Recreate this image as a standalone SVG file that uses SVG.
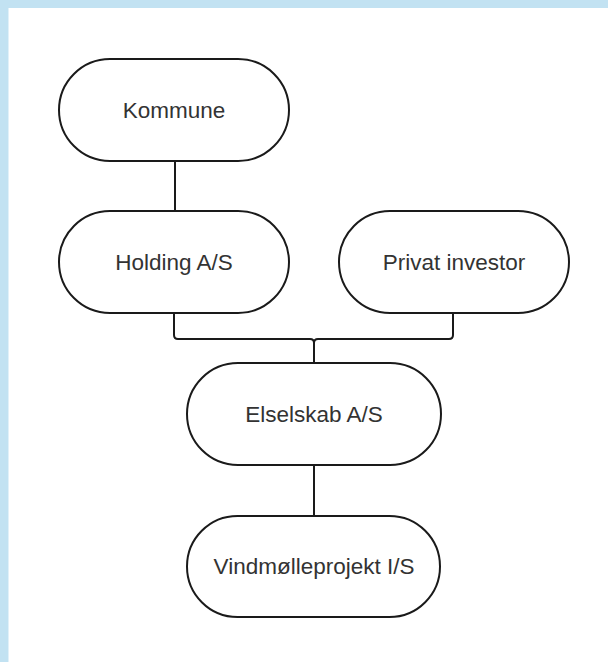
<svg xmlns="http://www.w3.org/2000/svg" width="608" height="662" viewBox="0 0 608 662">
  <style>
    .node rect { fill: #ffffff; stroke: #1a1a1a; stroke-width: 2; }
    .node text { font-family: "Liberation Sans", Arial, sans-serif; font-size: 22.5px; fill: #333333; text-anchor: middle; }
    .edges path { fill: none; stroke: #1a1a1a; stroke-width: 2; }
  </style>

  <!-- page frame -->
  <rect x="0" y="0" width="608" height="662" fill="#c2e2f2"/>
  <rect x="8.5" y="8" width="599.5" height="654" fill="#ffffff"/>

  <!-- connectors -->
  <g id="edges" class="edges">
    <path d="M175 161 V211"/>
    <path d="M174 313 V335 Q174 339 178 339 H310 Q314 339 314 343 V363"/>
    <path d="M453 313 V335 Q453 339 449 339 H318 Q314 339 314 343 V363"/>
    <path d="M314 465 V516"/>
  </g>

  <g id="kommune" class="node">
    <rect x="59" y="59" width="230" height="102" rx="51" ry="51"/>
    <text x="174" y="118">Kommune</text>
  </g>

  <g id="holding" class="node">
    <rect x="59" y="211" width="230" height="102" rx="51" ry="51"/>
    <text x="174" y="270">Holding A/S</text>
  </g>

  <g id="privat" class="node">
    <rect x="339" y="211" width="230" height="102" rx="51" ry="51"/>
    <text x="454" y="270">Privat investor</text>
  </g>

  <g id="elselskab" class="node">
    <rect x="187" y="363" width="254" height="102" rx="51" ry="51"/>
    <text x="314" y="422">Elselskab A/S</text>
  </g>

  <g id="vindmolle" class="node">
    <rect x="187" y="516" width="253" height="101" rx="50.5" ry="50.5"/>
    <text x="314" y="574">Vindmølleprojekt I/S</text>
  </g>
</svg>
